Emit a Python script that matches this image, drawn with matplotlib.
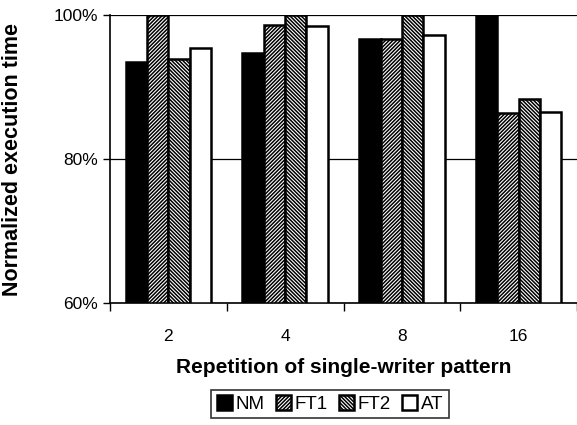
import matplotlib
matplotlib.use("Agg")
import matplotlib.pyplot as plt
import numpy as np

categories = ["2", "4", "8", "16"]
series_names = ["NM", "FT1", "FT2", "AT"]
NM = [93.5, 94.7, 96.7, 100.0]
FT1 = [100.0, 98.6, 96.6, 86.4]
FT2 = [93.9, 100.0, 100.0, 88.3]
AT = [95.4, 98.5, 97.2, 86.5]
yticks = [60, 80, 100]
ytick_labels = ["60%", "80%", "100%"]

plt.rcParams['font.family'] = ['Liberation Sans', 'DejaVu Sans']
plt.rcParams['hatch.linewidth'] = 1.1

fig = plt.figure(figsize=(5.77, 4.25), dpi=100)
ax = fig.add_axes([110/577, 1-303/425, 1-110/577, (303-15)/425])

x = np.arange(len(categories))
w = 0.183
styles = [dict(color="black", edgecolor="black"),
          dict(facecolor="white", edgecolor="black", hatch="/" * 9),
          dict(facecolor="white", edgecolor="black", hatch="\\" * 9),
          dict(facecolor="white", edgecolor="black")]
data = [NM, FT1, FT2, AT]
handles = []
for i, (vals, st) in enumerate(zip(data, styles)):
    b = ax.bar(x + (i - 1.5) * w, np.array(vals) - 60, bottom=60, width=w,
               linewidth=1.8, zorder=3, label=series_names[i], **st)
    handles.append(b)

ax.set_ylim(60, 100)
ax.set_xlim(-0.5, 3.5)
ax.set_yticks(yticks)
ax.set_yticklabels(ytick_labels, fontsize=12.5)
ax.yaxis.grid(True, color="black", linewidth=0.9, zorder=0)
ax.set_xticks(x)
ax.set_xticklabels(categories, fontsize=12.5)
ax.set_xticks(np.arange(-0.5, 4.0, 1.0), minor=True)
ax.tick_params(axis="x", which="major", length=0, pad=18.5)
ax.tick_params(axis="x", which="minor", length=6, width=1, direction="out")
ax.tick_params(axis="y", length=5, width=1, direction="out")
for s in ["top", "right"]:
    ax.spines[s].set_visible(False)
ax.spines["left"].set_linewidth(1.2)
ax.spines["bottom"].set_linewidth(1.2)

fig.text(13/577, 1-160/425, "Normalized execution time", rotation=90,
         ha="center", va="center", fontsize=15.5, fontweight="bold")
ax.set_xlabel("Repetition of single-writer pattern", fontsize=15, fontweight="bold", labelpad=10)

leg = fig.legend(handles=handles, labels=series_names, loc="center",
                 bbox_to_anchor=(330/577, 1-404/425), ncol=4, fontsize=13.5,
                 frameon=True, fancybox=False, edgecolor="black",
                 handlelength=0.8, handleheight=0.8, handletextpad=0.2,
                 columnspacing=0.6, borderpad=0.3)
leg.get_frame().set_linewidth(1.2)

fig.savefig("out.png", dpi=100)
